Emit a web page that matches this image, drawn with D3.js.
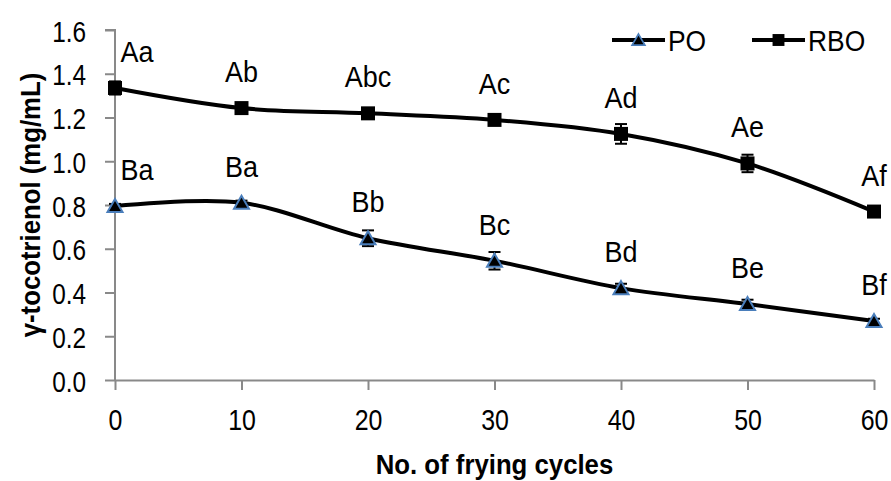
<!DOCTYPE html>
<html>
<head>
<meta charset="utf-8">
<script src="https://cdn.jsdelivr.net/npm/d3@7"></script>
<style>
  body { margin: 0; background: #fff; }
  svg text { font-family: "Liberation Sans", Arial, sans-serif; fill: #000; }
</style>
</head>
<body>
<div id="chart"></div>
<script>
// frying cycles and gamma-tocotrienol means (mg/mL)
var cycles = [0, 10, 20, 30, 40, 50, 60];
var poValues = [0.795, 0.81, 0.648, 0.545, 0.42, 0.347, 0.27];
var poErrors = [0.01, 0.01, 0.036, 0.04, 0.02, 0.02, 0.01];
var poLabels = ["Ba", "Ba", "Bb", "Bc", "Bd", "Be", "Bf"];
var rboValues = [1.335, 1.243, 1.219, 1.189, 1.125, 0.99, 0.77];
var rboErrors = [0.03, 0.01, 0.01, 0.01, 0.045, 0.04, 0.01];
var rboLabels = ["Aa", "Ab", "Abc", "Ac", "Ad", "Ae", "Af"];
var yTicks = [0, 0.2, 0.4, 0.6, 0.8, 1.0, 1.2, 1.4, 1.6];
var xTicks = [0, 10, 20, 30, 40, 50, 60];

var width = 891, height = 481;
var margin = { top: 30, right: 17, bottom: 101, left: 115 };
var axisColor = "#898989";

var svg = d3.select("#chart").append("svg")
    .attr("width", width)
    .attr("height", height);

var x = d3.scaleLinear().domain([0, 60]).range([margin.left, width - margin.right]);
var y = d3.scaleLinear().domain([0, 1.6]).range([height - margin.bottom, margin.top]);

// text in the picture is narrower than Liberation Sans, squeeze it horizontally
function narrow(sel, tx, ty, sx) {
    sel.attr("x", 0).attr("y", 0).attr("dy", null)
        .attr("transform", "translate(" + tx + "," + ty + ") scale(" + sx + ",1)");
}

// axes
var yAxis = svg.append("g")
    .attr("transform", "translate(" + margin.left + ",0)")
    .call(d3.axisLeft(y).tickValues(yTicks).tickSize(10).tickFormat(d3.format(".1f")));

var xAxis = svg.append("g")
    .attr("transform", "translate(0," + (height - margin.bottom) + ")")
    .call(d3.axisBottom(x).tickValues(xTicks).tickSize(10).tickSizeOuter(0));

yAxis.select(".domain").attr("d", "M-10," + y(1.6) + "H0V" + y(0));
[yAxis, xAxis].forEach(function (g) {
    g.selectAll(".domain, line").attr("stroke", axisColor).attr("stroke-width", 2);
    g.selectAll("text")
        .style("font-size", "29px")
        .style("font-family", "'Liberation Sans', Arial, sans-serif")
        .attr("fill", "#000");
});
yAxis.selectAll("text").call(narrow, -29, 11, 0.84);
xAxis.selectAll("text").call(narrow, 0, 50, 0.86);

// axis titles
svg.append("text")
    .attr("text-anchor", "middle")
    .style("font-size", "28px")
    .style("font-weight", "bold")
    .text("No. of frying cycles")
    .call(narrow, (x(0) + x(60)) / 2, 474, 0.92);

svg.append("text")
    .attr("transform", "translate(40," + ((y(0) + y(1.6)) / 2) + ") rotate(-90) scale(0.92,1)")
    .attr("text-anchor", "middle")
    .style("font-size", "28px")
    .style("font-weight", "bold")
    .text("γ-tocotrienol (mg/mL)");

var line = d3.line()
    .x(function (d) { return x(d.x); })
    .y(function (d) { return y(d.y); })
    .curve(d3.curveCardinal.tension(0));

function drawSeries(values, errors, labels, marker) {
    var data = cycles.map(function (c, i) {
        return { x: c, y: values[i], e: errors[i], label: labels[i] };
    });

    svg.append("path")
        .datum(data)
        .attr("fill", "none")
        .attr("stroke", "#000")
        .attr("stroke-width", 4)
        .attr("d", line);

    // error bars
    var eb = svg.append("g").selectAll("g").data(data).enter().append("g")
        .attr("stroke", "#000").attr("stroke-width", 2);
    eb.append("line")
        .attr("x1", function (d) { return x(d.x); })
        .attr("x2", function (d) { return x(d.x); })
        .attr("y1", function (d) { return y(d.y + d.e); })
        .attr("y2", function (d) { return y(d.y - d.e); });
    eb.append("line")
        .attr("x1", function (d) { return x(d.x) - 6; })
        .attr("x2", function (d) { return x(d.x) + 6; })
        .attr("y1", function (d) { return y(d.y + d.e); })
        .attr("y2", function (d) { return y(d.y + d.e); });
    eb.append("line")
        .attr("x1", function (d) { return x(d.x) - 6; })
        .attr("x2", function (d) { return x(d.x) + 6; })
        .attr("y1", function (d) { return y(d.y - d.e); })
        .attr("y2", function (d) { return y(d.y - d.e); });

    svg.append("g").selectAll("path").data(data).enter().append("path")
        .attr("transform", function (d) { return "translate(" + x(d.x) + "," + y(d.y) + ")"; })
        .call(marker);

    svg.append("g").selectAll("text").data(data).enter().append("text")
        .attr("text-anchor", "middle")
        .style("font-size", "29px")
        .text(function (d) { return d.label; })
        .each(function (d, i) {
            d3.select(this).call(narrow, x(d.x) + (i === 0 ? 22 : 0), y(d.y) - 26, 0.93);
        });
}

function squareMarker(sel) {
    sel.attr("d", "M-7,-7H7V7H-7Z").attr("fill", "#000");
}

function triangleMarker(sel) {
    sel.attr("d", "M0,-7L7.5,6H-7.5Z")
        .attr("fill", "#000")
        .attr("stroke", "#4a7ebb")
        .attr("stroke-width", 2);
}

drawSeries(rboValues, rboErrors, rboLabels, squareMarker);
drawSeries(poValues, poErrors, poLabels, triangleMarker);

// legend
var legend = [
    { name: "PO", x: 612, marker: triangleMarker },
    { name: "RBO", x: 752, marker: squareMarker }
];
var lg = svg.append("g").selectAll("g").data(legend).enter().append("g")
    .attr("transform", function (d) { return "translate(" + d.x + ",40)"; });
lg.append("line").attr("x1", 0).attr("x2", 53).attr("stroke", "#000").attr("stroke-width", 4);
lg.append("path").attr("transform", "translate(26.5,0) scale(0.85)")
    .each(function (d) { d3.select(this).call(d.marker); });
lg.append("text")
    .style("font-size", "30px")
    .text(function (d) { return d.name; })
    .call(narrow, 56, 11, 0.88);
</script>
</body>
</html>
